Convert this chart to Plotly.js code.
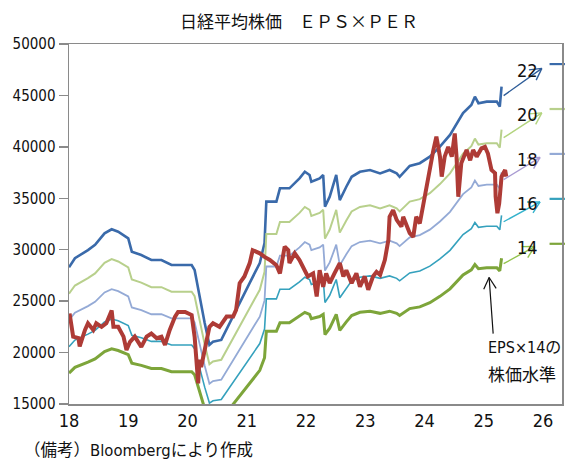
<!DOCTYPE html>
<html>
<head>
<meta charset="utf-8">
<script src="https://cdn.plot.ly/plotly-3.0.1.min.js"></script>
<style>html,body{margin:0;padding:0;background:#fff;}#chart{width:575px;height:463px;}</style>
</head>
<body>
<div id="chart"></div>
<script>
// ---- data (x = year, 18 = 2018) ----
const epsDates = [18.00,18.10,18.32,18.44,18.60,18.72,18.83,19.00,19.06,19.22,19.39,19.56,19.73,19.90,20.07,20.12,20.20,20.29,20.37,20.43,20.57,20.71,20.88,21.05,21.22,21.30,21.33,21.50,21.56,21.72,21.89,21.98,22.06,22.09,22.23,22.29,22.32,22.40,22.51,22.57,22.68,22.77,22.91,23.08,23.25,23.41,23.53,23.58,23.75,23.92,24.09,24.26,24.43,24.54,24.65,24.79,24.85,24.91,25.05,25.22,25.27,25.30];
const eps = [1286,1326,1362,1385,1436,1454,1443,1414,1355,1340,1318,1318,1296,1296,1296,1274,1156,1040,943,957,965,1040,1128,1217,1305,1393,1576,1576,1635,1635,1679,1708,1694,1664,1679,1694,1554,1598,1694,1583,1642,1686,1708,1716,1701,1716,1701,1686,1734,1746,1775,1819,1871,1922,1967,2003,2040,2011,2018,2018,1996,2084];

const nikkeiDates = [18.01,18.07,18.16,18.18,18.27,18.32,18.41,18.46,18.55,18.63,18.72,18.75,18.83,18.92,18.97,
  19.03,19.11,19.22,19.31,19.39,19.48,19.56,19.62,19.70,19.79,19.84,19.96,
  20.07,20.12,20.15,20.18,20.20,20.23,20.29,20.37,20.43,20.54,20.66,20.77,20.82,20.88,20.96,
  21.05,21.10,21.22,21.30,21.39,21.50,21.56,21.64,21.70,21.72,21.81,21.89,21.95,
  22.03,22.12,22.18,22.23,22.29,22.34,22.40,22.48,22.57,22.63,22.68,22.77,22.85,22.91,22.99,
  23.05,23.13,23.19,23.25,23.33,23.39,23.41,23.47,23.53,23.61,23.64,23.70,23.75,23.81,23.86,23.92,23.98,
  24.03,24.09,24.12,24.15,24.20,24.26,24.29,24.34,24.40,24.46,24.51,24.54,24.57,24.62,24.71,24.77,24.82,24.88,24.96,
  25.02,25.07,25.13,25.19,25.20,25.23,25.26,25.30,25.36,25.38];
const nikkei = [23800,21550,21400,20600,22200,22850,22200,22850,22500,22850,24100,22500,22500,21550,20250,
  21050,21550,20550,21550,21850,21400,21550,20750,22200,23500,23950,23950,
  23650,21550,19600,17000,19300,18600,20250,22500,22850,22500,23500,23500,24150,26750,27400,
  28700,29950,29650,29300,29000,28500,27700,30300,29950,28700,29650,29000,28350,
  27400,27700,25450,28000,26400,27700,26750,27700,28700,27400,28000,26750,27700,26400,27400,
  26100,27400,27850,27550,29000,30950,33200,33850,32900,32250,33200,32250,31600,31250,33200,32550,34500,
  36100,37750,39050,39700,41000,39050,37100,39050,40000,39050,41300,39050,35150,38400,39700,38700,39700,39050,39850,
  40000,39350,37750,37450,35150,33550,34500,37100,37750,37100];

const perMultiples = [22, 20, 18, 16, 14];
const perLabels = ['22', '20', '18', '16', '14'];
const forecastEPS = 2184;      // level marked at right edge
const arrowTailEPS = 2040;     // arrow start (end of series)
const arrowHeadEPS = 2165;     // arrow tip
const arrowTailX = 25.31;
const arrowHeadX = [25.98, 25.98, 25.95, 25.95, 25.86];
const labelEPS = 2155;
const noteLines = ['EPS×14の', '株価水準'];
const noteArrow = {tailX: 25.16, tailY: 21700, headX: 25.09, headY: 27300};

// ---- styles ----
const lineColors = ['#3A6AAA', '#B8D08C', '#94AAD6', '#35A1BD', '#7DA53A'];
const lineWidths = [2.6, 2, 1.8, 1.6, 3];
const arrowColors = ['#2F5D99', '#B3D47E', '#A99BD2', '#34B2CC', '#93C34D'];
const narrow = '"DejaVu Sans Condensed", "Liberation Sans Narrow", Roboto, "Noto Sans CJK JP", sans-serif';
const cjk = '"Noto Sans CJK JP", sans-serif';

const X_RANGE = [18, 26.32], Y_RANGE = [15000, 50000];
const M = {l: 69, r: 13, t: 44, b: 59};
const PW = 575 - M.l - M.r, PH = 463 - M.t - M.b;
const pxPerX = PW / (X_RANGE[1] - X_RANGE[0]);
const pxPerY = PH / (Y_RANGE[1] - Y_RANGE[0]);

const traces = perMultiples.map((k, i) => ({
  x: epsDates,
  y: eps.map(e => e * k),
  type: 'scatter', mode: 'lines',
  line: {color: lineColors[i], width: lineWidths[i]},
  hoverinfo: 'skip'
}));
traces.push({
  x: nikkeiDates, y: nikkei, type: 'scatter', mode: 'lines',
  line: {color: '#AE3B36', width: 4}, hoverinfo: 'skip'
});
traces.push({
  x: perMultiples.map(() => 26.24),
  y: perMultiples.map(k => forecastEPS * k),
  type: 'scatter', mode: 'markers', cliponaxis: false,
  marker: {symbol: 'line-ew', size: 11, line: {width: 2.2, color: lineColors}},
  hoverinfo: 'skip'
});

const annotations = [];
const shapes = [];
// open "V" arrow: shaft (annotation line) + two arms (pixel-sized line shapes)
function openArrow(tx, ty, hx, hy, color, width, armLen) {
  annotations.push({
    x: hx, y: hy, xref: 'x', yref: 'y', ax: tx, ay: ty, axref: 'x', ayref: 'y',
    text: '', showarrow: true, arrowhead: 0, arrowwidth: width, arrowcolor: color,
    standoff: 0, startstandoff: 0
  });
  const dx = (hx - tx) * pxPerX, dy = (hy - ty) * pxPerY;   // y up
  const len = Math.hypot(dx, dy);
  const bx = -dx / len, by = -dy / len;
  [0.5, -0.5].forEach(a => {
    const c = Math.cos(a), s = Math.sin(a);
    shapes.push({
      type: 'line', xref: 'x', yref: 'y',
      xsizemode: 'pixel', ysizemode: 'pixel', xanchor: hx, yanchor: hy,
      x0: 0, y0: 0,
      x1: armLen * (bx * c - by * s), y1: armLen * (bx * s + by * c),
      line: {color: color, width: width}
    });
  });
}

perMultiples.forEach((k, i) => {
  openArrow(arrowTailX, arrowTailEPS * k, arrowHeadX[i], arrowHeadEPS * k, arrowColors[i], 1.4, 13);
  annotations.push({
    x: 25.73, y: labelEPS * k, xref: 'x', yref: 'y',
    text: perLabels[i], showarrow: false,
    font: {family: narrow, size: 18, color: '#111'}
  });
});
openArrow(noteArrow.tailX, noteArrow.tailY, noteArrow.headX, noteArrow.headY, '#111', 1.2, 13);

annotations.push({
  x: 25.04, y: 20450, xref: 'x', yref: 'y', xanchor: 'left', yanchor: 'middle',
  text: noteLines[0], showarrow: false, align: 'left',
  font: {family: narrow, size: 16, color: '#111'}
});
annotations.push({
  x: 25.04, y: 17820, xref: 'x', yref: 'y', xanchor: 'left', yanchor: 'middle',
  text: noteLines[1], showarrow: false, align: 'left',
  font: {family: narrow, size: 17, color: '#111'}
});
annotations.push({
  x: -0.095, y: -0.128, xref: 'paper', yref: 'paper', xanchor: 'left', yanchor: 'middle',
  text: '（備考）Bloombergにより作成', showarrow: false,
  font: {family: narrow, size: 16.5, color: '#111'}
});

const layout = {
  width: 575, height: 463,
  margin: M,
  paper_bgcolor: '#fff', plot_bgcolor: '#fff',
  showlegend: false,
  title: {
    text: '日経平均株価　ＥＰＳ×ＰＥＲ',
    xref: 'container', yref: 'container', x: 0.52, y: 1 - 22 / 463,
    xanchor: 'center', yanchor: 'middle',
    font: {family: cjk, size: 17, color: '#111'}
  },
  xaxis: {
    range: X_RANGE, tickvals: [18, 19, 20, 21, 22, 23, 24, 25, 26],
    showgrid: false, zeroline: false, showline: true, mirror: true,
    linecolor: '#8a8a8a', linewidth: 1.5, ticks: '',
    tickfont: {family: narrow, size: 18, color: '#111'}
  },
  yaxis: {
    range: Y_RANGE, dtick: 5000, tickformat: 'd',
    showgrid: false, zeroline: false, showline: true, mirror: true,
    linecolor: '#8a8a8a', linewidth: 1.5, ticks: 'outside', ticklen: 9,
    tickcolor: '#8a8a8a', tickwidth: 1.5,
    tickfont: {family: narrow, size: 15, color: '#111'}
  },
  shapes: shapes,
  annotations: annotations
};

Plotly.newPlot('chart', traces, layout, {staticPlot: true, displayModeBar: false});
</script>
</body>
</html>
